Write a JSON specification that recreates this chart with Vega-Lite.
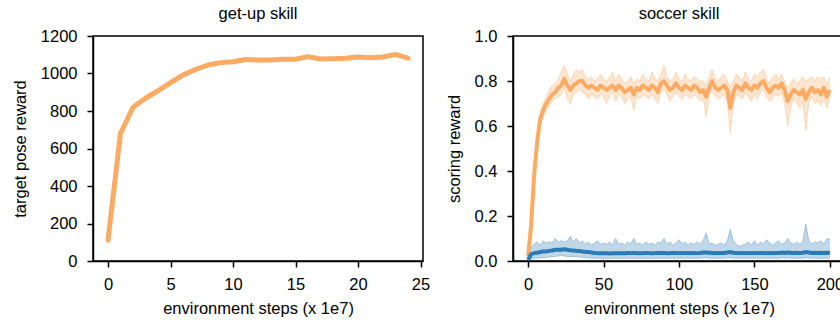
{
  "$schema": "https://vega.github.io/schema/vega-lite/v6.json",
  "padding": {"left": 11, "top": 4, "right": 0, "bottom": 0},
  "background": "white",
  "config": {
    "font": "Liberation Sans",
    "view": {"stroke": "black", "strokeWidth": 1.5},
    "axis": {"grid": false, "domainColor": "black", "domainWidth": 1.5, "tickColor": "black", "tickWidth": 1.5, "tickSize": 6, "labelFontSize": 16.5, "labelColor": "black", "titleFontSize": 16.5, "titleFontWeight": "normal", "titleColor": "black", "labelPadding": 10, "titlePadding": 12, "labelFlush": false, "labelOverlap": false},
    "axisX": {"titlePadding": 8, "labelPadding": 9},
    "title": {"fontSize": 16.5, "fontWeight": "normal", "offset": 6, "anchor": "middle", "frame": "group", "color": "black"}
  },
  "datasets": {
    "getup": [
      {"step": 0, "mean": 112, "lo": 55, "hi": 135},
      {"step": 1, "mean": 681, "lo": 665, "hi": 695},
      {"step": 2, "mean": 820, "lo": 810, "hi": 830},
      {"step": 3, "mean": 868, "lo": 858, "hi": 880},
      {"step": 4, "mean": 908, "lo": 897, "hi": 920},
      {"step": 5, "mean": 951, "lo": 940, "hi": 963},
      {"step": 6, "mean": 992, "lo": 980, "hi": 1004},
      {"step": 7, "mean": 1022, "lo": 1012, "hi": 1033},
      {"step": 8, "mean": 1045, "lo": 1036, "hi": 1054},
      {"step": 9, "mean": 1058, "lo": 1050, "hi": 1066},
      {"step": 10, "mean": 1063, "lo": 1056, "hi": 1070},
      {"step": 11, "mean": 1075, "lo": 1068, "hi": 1082},
      {"step": 12, "mean": 1072, "lo": 1066, "hi": 1078},
      {"step": 13, "mean": 1072, "lo": 1066, "hi": 1078},
      {"step": 14, "mean": 1076, "lo": 1070, "hi": 1082},
      {"step": 15, "mean": 1076, "lo": 1070, "hi": 1082},
      {"step": 16, "mean": 1090, "lo": 1083, "hi": 1097},
      {"step": 17, "mean": 1077, "lo": 1071, "hi": 1083},
      {"step": 18, "mean": 1079, "lo": 1073, "hi": 1085},
      {"step": 19, "mean": 1081, "lo": 1075, "hi": 1087},
      {"step": 20, "mean": 1088, "lo": 1082, "hi": 1094},
      {"step": 21, "mean": 1084, "lo": 1078, "hi": 1090},
      {"step": 22, "mean": 1088, "lo": 1082, "hi": 1094},
      {"step": 23, "mean": 1102, "lo": 1095, "hi": 1108},
      {"step": 24, "mean": 1082, "lo": 1075, "hi": 1089}
    ],
    "soccer": [
      {"agent": "skill", "step": 0, "mean": 0.02, "lo": 0.01, "hi": 0.03},
      {"agent": "skill", "step": 2, "mean": 0.16, "lo": 0.12, "hi": 0.2},
      {"agent": "skill", "step": 4, "mean": 0.38, "lo": 0.33, "hi": 0.43},
      {"agent": "skill", "step": 6, "mean": 0.53, "lo": 0.49, "hi": 0.57},
      {"agent": "skill", "step": 8, "mean": 0.63, "lo": 0.6, "hi": 0.66},
      {"agent": "skill", "step": 10, "mean": 0.67, "lo": 0.64, "hi": 0.7},
      {"agent": "skill", "step": 12, "mean": 0.7, "lo": 0.67, "hi": 0.73},
      {"agent": "skill", "step": 14, "mean": 0.72, "lo": 0.69, "hi": 0.76},
      {"agent": "skill", "step": 16, "mean": 0.74, "lo": 0.71, "hi": 0.78},
      {"agent": "skill", "step": 18, "mean": 0.75, "lo": 0.72, "hi": 0.79},
      {"agent": "skill", "step": 20, "mean": 0.77, "lo": 0.73, "hi": 0.81},
      {"agent": "skill", "step": 22, "mean": 0.78, "lo": 0.74, "hi": 0.84},
      {"agent": "skill", "step": 24, "mean": 0.81, "lo": 0.77, "hi": 0.87},
      {"agent": "skill", "step": 26, "mean": 0.78, "lo": 0.72, "hi": 0.83},
      {"agent": "skill", "step": 28, "mean": 0.76, "lo": 0.7, "hi": 0.8},
      {"agent": "skill", "step": 30, "mean": 0.78, "lo": 0.74, "hi": 0.83},
      {"agent": "skill", "step": 32, "mean": 0.79, "lo": 0.75, "hi": 0.85},
      {"agent": "skill", "step": 34, "mean": 0.8, "lo": 0.76, "hi": 0.84},
      {"agent": "skill", "step": 36, "mean": 0.8, "lo": 0.75, "hi": 0.85},
      {"agent": "skill", "step": 38, "mean": 0.78, "lo": 0.74, "hi": 0.82},
      {"agent": "skill", "step": 40, "mean": 0.77, "lo": 0.72, "hi": 0.81},
      {"agent": "skill", "step": 42, "mean": 0.78, "lo": 0.74, "hi": 0.82},
      {"agent": "skill", "step": 44, "mean": 0.77, "lo": 0.73, "hi": 0.8},
      {"agent": "skill", "step": 46, "mean": 0.76, "lo": 0.72, "hi": 0.81},
      {"agent": "skill", "step": 48, "mean": 0.78, "lo": 0.74, "hi": 0.83},
      {"agent": "skill", "step": 50, "mean": 0.77, "lo": 0.73, "hi": 0.81},
      {"agent": "skill", "step": 52, "mean": 0.76, "lo": 0.7, "hi": 0.8},
      {"agent": "skill", "step": 54, "mean": 0.77, "lo": 0.73, "hi": 0.82},
      {"agent": "skill", "step": 56, "mean": 0.78, "lo": 0.75, "hi": 0.84},
      {"agent": "skill", "step": 58, "mean": 0.76, "lo": 0.71, "hi": 0.8},
      {"agent": "skill", "step": 60, "mean": 0.78, "lo": 0.74, "hi": 0.83},
      {"agent": "skill", "step": 62, "mean": 0.77, "lo": 0.73, "hi": 0.81},
      {"agent": "skill", "step": 64, "mean": 0.75, "lo": 0.7, "hi": 0.79},
      {"agent": "skill", "step": 66, "mean": 0.76, "lo": 0.72, "hi": 0.8},
      {"agent": "skill", "step": 68, "mean": 0.77, "lo": 0.73, "hi": 0.82},
      {"agent": "skill", "step": 70, "mean": 0.74, "lo": 0.67, "hi": 0.79},
      {"agent": "skill", "step": 72, "mean": 0.77, "lo": 0.73, "hi": 0.81},
      {"agent": "skill", "step": 74, "mean": 0.76, "lo": 0.72, "hi": 0.8},
      {"agent": "skill", "step": 76, "mean": 0.78, "lo": 0.74, "hi": 0.83},
      {"agent": "skill", "step": 78, "mean": 0.77, "lo": 0.73, "hi": 0.81},
      {"agent": "skill", "step": 80, "mean": 0.76, "lo": 0.72, "hi": 0.8},
      {"agent": "skill", "step": 82, "mean": 0.78, "lo": 0.74, "hi": 0.84},
      {"agent": "skill", "step": 84, "mean": 0.77, "lo": 0.72, "hi": 0.81},
      {"agent": "skill", "step": 86, "mean": 0.75, "lo": 0.7, "hi": 0.8},
      {"agent": "skill", "step": 88, "mean": 0.79, "lo": 0.75, "hi": 0.83},
      {"agent": "skill", "step": 90, "mean": 0.8, "lo": 0.76, "hi": 0.87},
      {"agent": "skill", "step": 92, "mean": 0.78, "lo": 0.74, "hi": 0.82},
      {"agent": "skill", "step": 94, "mean": 0.76, "lo": 0.71, "hi": 0.8},
      {"agent": "skill", "step": 96, "mean": 0.77, "lo": 0.73, "hi": 0.81},
      {"agent": "skill", "step": 98, "mean": 0.79, "lo": 0.75, "hi": 0.84},
      {"agent": "skill", "step": 100, "mean": 0.77, "lo": 0.73, "hi": 0.81},
      {"agent": "skill", "step": 102, "mean": 0.76, "lo": 0.72, "hi": 0.8},
      {"agent": "skill", "step": 104, "mean": 0.78, "lo": 0.74, "hi": 0.83},
      {"agent": "skill", "step": 106, "mean": 0.77, "lo": 0.73, "hi": 0.81},
      {"agent": "skill", "step": 108, "mean": 0.76, "lo": 0.72, "hi": 0.8},
      {"agent": "skill", "step": 110, "mean": 0.78, "lo": 0.74, "hi": 0.82},
      {"agent": "skill", "step": 112, "mean": 0.77, "lo": 0.73, "hi": 0.81},
      {"agent": "skill", "step": 114, "mean": 0.75, "lo": 0.71, "hi": 0.8},
      {"agent": "skill", "step": 116, "mean": 0.76, "lo": 0.72, "hi": 0.8},
      {"agent": "skill", "step": 118, "mean": 0.73, "lo": 0.64, "hi": 0.78},
      {"agent": "skill", "step": 120, "mean": 0.77, "lo": 0.73, "hi": 0.82},
      {"agent": "skill", "step": 122, "mean": 0.8, "lo": 0.76, "hi": 0.85},
      {"agent": "skill", "step": 124, "mean": 0.77, "lo": 0.73, "hi": 0.81},
      {"agent": "skill", "step": 126, "mean": 0.76, "lo": 0.72, "hi": 0.8},
      {"agent": "skill", "step": 128, "mean": 0.77, "lo": 0.73, "hi": 0.82},
      {"agent": "skill", "step": 130, "mean": 0.78, "lo": 0.74, "hi": 0.83},
      {"agent": "skill", "step": 132, "mean": 0.76, "lo": 0.71, "hi": 0.8},
      {"agent": "skill", "step": 134, "mean": 0.68, "lo": 0.57, "hi": 0.77},
      {"agent": "skill", "step": 136, "mean": 0.75, "lo": 0.7, "hi": 0.8},
      {"agent": "skill", "step": 138, "mean": 0.78, "lo": 0.74, "hi": 0.83},
      {"agent": "skill", "step": 140, "mean": 0.77, "lo": 0.73, "hi": 0.82},
      {"agent": "skill", "step": 142, "mean": 0.76, "lo": 0.72, "hi": 0.8},
      {"agent": "skill", "step": 144, "mean": 0.79, "lo": 0.75, "hi": 0.84},
      {"agent": "skill", "step": 146, "mean": 0.77, "lo": 0.73, "hi": 0.81},
      {"agent": "skill", "step": 148, "mean": 0.76, "lo": 0.71, "hi": 0.8},
      {"agent": "skill", "step": 150, "mean": 0.78, "lo": 0.74, "hi": 0.83},
      {"agent": "skill", "step": 152, "mean": 0.77, "lo": 0.72, "hi": 0.82},
      {"agent": "skill", "step": 154, "mean": 0.79, "lo": 0.75, "hi": 0.84},
      {"agent": "skill", "step": 156, "mean": 0.8, "lo": 0.76, "hi": 0.85},
      {"agent": "skill", "step": 158, "mean": 0.77, "lo": 0.73, "hi": 0.81},
      {"agent": "skill", "step": 160, "mean": 0.75, "lo": 0.71, "hi": 0.79},
      {"agent": "skill", "step": 162, "mean": 0.77, "lo": 0.72, "hi": 0.82},
      {"agent": "skill", "step": 164, "mean": 0.78, "lo": 0.74, "hi": 0.83},
      {"agent": "skill", "step": 166, "mean": 0.77, "lo": 0.73, "hi": 0.81},
      {"agent": "skill", "step": 168, "mean": 0.79, "lo": 0.75, "hi": 0.83},
      {"agent": "skill", "step": 170, "mean": 0.76, "lo": 0.7, "hi": 0.8},
      {"agent": "skill", "step": 172, "mean": 0.71, "lo": 0.6, "hi": 0.77},
      {"agent": "skill", "step": 174, "mean": 0.74, "lo": 0.68, "hi": 0.79},
      {"agent": "skill", "step": 176, "mean": 0.76, "lo": 0.72, "hi": 0.81},
      {"agent": "skill", "step": 178, "mean": 0.75, "lo": 0.7, "hi": 0.79},
      {"agent": "skill", "step": 180, "mean": 0.74, "lo": 0.68, "hi": 0.8},
      {"agent": "skill", "step": 182, "mean": 0.76, "lo": 0.71, "hi": 0.82},
      {"agent": "skill", "step": 184, "mean": 0.72, "lo": 0.58, "hi": 0.8},
      {"agent": "skill", "step": 186, "mean": 0.75, "lo": 0.7, "hi": 0.81},
      {"agent": "skill", "step": 188, "mean": 0.77, "lo": 0.73, "hi": 0.82},
      {"agent": "skill", "step": 190, "mean": 0.75, "lo": 0.7, "hi": 0.8},
      {"agent": "skill", "step": 192, "mean": 0.76, "lo": 0.71, "hi": 0.82},
      {"agent": "skill", "step": 194, "mean": 0.74, "lo": 0.69, "hi": 0.81},
      {"agent": "skill", "step": 196, "mean": 0.77, "lo": 0.72, "hi": 0.82},
      {"agent": "skill", "step": 198, "mean": 0.73, "lo": 0.68, "hi": 0.78},
      {"agent": "skill", "step": 200, "mean": 0.76, "lo": 0.72, "hi": 0.82},
      {"agent": "baseline", "step": 0, "mean": 0.005, "lo": 0.0, "hi": 0.01},
      {"agent": "baseline", "step": 2, "mean": 0.03, "lo": 0.01, "hi": 0.06},
      {"agent": "baseline", "step": 4, "mean": 0.035, "lo": 0.012, "hi": 0.075},
      {"agent": "baseline", "step": 6, "mean": 0.037, "lo": 0.012, "hi": 0.085},
      {"agent": "baseline", "step": 8, "mean": 0.04, "lo": 0.015, "hi": 0.07},
      {"agent": "baseline", "step": 10, "mean": 0.042, "lo": 0.015, "hi": 0.09},
      {"agent": "baseline", "step": 12, "mean": 0.042, "lo": 0.015, "hi": 0.08},
      {"agent": "baseline", "step": 14, "mean": 0.045, "lo": 0.02, "hi": 0.085},
      {"agent": "baseline", "step": 16, "mean": 0.047, "lo": 0.02, "hi": 0.08},
      {"agent": "baseline", "step": 18, "mean": 0.05, "lo": 0.02, "hi": 0.1},
      {"agent": "baseline", "step": 20, "mean": 0.05, "lo": 0.022, "hi": 0.085},
      {"agent": "baseline", "step": 22, "mean": 0.05, "lo": 0.025, "hi": 0.09},
      {"agent": "baseline", "step": 24, "mean": 0.052, "lo": 0.022, "hi": 0.085},
      {"agent": "baseline", "step": 26, "mean": 0.05, "lo": 0.02, "hi": 0.09},
      {"agent": "baseline", "step": 28, "mean": 0.048, "lo": 0.02, "hi": 0.11},
      {"agent": "baseline", "step": 30, "mean": 0.047, "lo": 0.02, "hi": 0.085},
      {"agent": "baseline", "step": 32, "mean": 0.045, "lo": 0.02, "hi": 0.1},
      {"agent": "baseline", "step": 34, "mean": 0.045, "lo": 0.018, "hi": 0.08},
      {"agent": "baseline", "step": 36, "mean": 0.042, "lo": 0.015, "hi": 0.09},
      {"agent": "baseline", "step": 38, "mean": 0.04, "lo": 0.015, "hi": 0.075},
      {"agent": "baseline", "step": 40, "mean": 0.04, "lo": 0.015, "hi": 0.085},
      {"agent": "baseline", "step": 42, "mean": 0.038, "lo": 0.012, "hi": 0.07},
      {"agent": "baseline", "step": 44, "mean": 0.036, "lo": 0.012, "hi": 0.08},
      {"agent": "baseline", "step": 46, "mean": 0.035, "lo": 0.012, "hi": 0.09},
      {"agent": "baseline", "step": 48, "mean": 0.035, "lo": 0.012, "hi": 0.072},
      {"agent": "baseline", "step": 50, "mean": 0.034, "lo": 0.01, "hi": 0.08},
      {"agent": "baseline", "step": 52, "mean": 0.035, "lo": 0.012, "hi": 0.075},
      {"agent": "baseline", "step": 54, "mean": 0.033, "lo": 0.01, "hi": 0.085},
      {"agent": "baseline", "step": 56, "mean": 0.034, "lo": 0.012, "hi": 0.07},
      {"agent": "baseline", "step": 58, "mean": 0.035, "lo": 0.012, "hi": 0.1},
      {"agent": "baseline", "step": 60, "mean": 0.034, "lo": 0.01, "hi": 0.075},
      {"agent": "baseline", "step": 62, "mean": 0.035, "lo": 0.012, "hi": 0.08},
      {"agent": "baseline", "step": 64, "mean": 0.034, "lo": 0.012, "hi": 0.07},
      {"agent": "baseline", "step": 66, "mean": 0.036, "lo": 0.012, "hi": 0.085},
      {"agent": "baseline", "step": 68, "mean": 0.035, "lo": 0.012, "hi": 0.075},
      {"agent": "baseline", "step": 70, "mean": 0.036, "lo": 0.012, "hi": 0.1},
      {"agent": "baseline", "step": 72, "mean": 0.035, "lo": 0.012, "hi": 0.075},
      {"agent": "baseline", "step": 74, "mean": 0.034, "lo": 0.01, "hi": 0.08},
      {"agent": "baseline", "step": 76, "mean": 0.035, "lo": 0.012, "hi": 0.07},
      {"agent": "baseline", "step": 78, "mean": 0.036, "lo": 0.012, "hi": 0.085},
      {"agent": "baseline", "step": 80, "mean": 0.035, "lo": 0.012, "hi": 0.075},
      {"agent": "baseline", "step": 82, "mean": 0.034, "lo": 0.01, "hi": 0.08},
      {"agent": "baseline", "step": 84, "mean": 0.035, "lo": 0.012, "hi": 0.07},
      {"agent": "baseline", "step": 86, "mean": 0.036, "lo": 0.012, "hi": 0.085},
      {"agent": "baseline", "step": 88, "mean": 0.036, "lo": 0.012, "hi": 0.08},
      {"agent": "baseline", "step": 90, "mean": 0.036, "lo": 0.012, "hi": 0.1},
      {"agent": "baseline", "step": 92, "mean": 0.035, "lo": 0.012, "hi": 0.075},
      {"agent": "baseline", "step": 94, "mean": 0.035, "lo": 0.012, "hi": 0.085},
      {"agent": "baseline", "step": 96, "mean": 0.036, "lo": 0.012, "hi": 0.07},
      {"agent": "baseline", "step": 98, "mean": 0.036, "lo": 0.012, "hi": 0.08},
      {"agent": "baseline", "step": 100, "mean": 0.035, "lo": 0.012, "hi": 0.095},
      {"agent": "baseline", "step": 102, "mean": 0.036, "lo": 0.012, "hi": 0.075},
      {"agent": "baseline", "step": 104, "mean": 0.035, "lo": 0.012, "hi": 0.085},
      {"agent": "baseline", "step": 106, "mean": 0.036, "lo": 0.012, "hi": 0.07},
      {"agent": "baseline", "step": 108, "mean": 0.035, "lo": 0.012, "hi": 0.08},
      {"agent": "baseline", "step": 110, "mean": 0.036, "lo": 0.012, "hi": 0.075},
      {"agent": "baseline", "step": 112, "mean": 0.035, "lo": 0.012, "hi": 0.085},
      {"agent": "baseline", "step": 114, "mean": 0.036, "lo": 0.012, "hi": 0.075},
      {"agent": "baseline", "step": 116, "mean": 0.038, "lo": 0.014, "hi": 0.09},
      {"agent": "baseline", "step": 118, "mean": 0.038, "lo": 0.014, "hi": 0.125},
      {"agent": "baseline", "step": 120, "mean": 0.037, "lo": 0.012, "hi": 0.075},
      {"agent": "baseline", "step": 122, "mean": 0.036, "lo": 0.012, "hi": 0.08},
      {"agent": "baseline", "step": 124, "mean": 0.035, "lo": 0.012, "hi": 0.07},
      {"agent": "baseline", "step": 126, "mean": 0.036, "lo": 0.012, "hi": 0.075},
      {"agent": "baseline", "step": 128, "mean": 0.036, "lo": 0.012, "hi": 0.08},
      {"agent": "baseline", "step": 130, "mean": 0.036, "lo": 0.012, "hi": 0.07},
      {"agent": "baseline", "step": 132, "mean": 0.038, "lo": 0.014, "hi": 0.09},
      {"agent": "baseline", "step": 134, "mean": 0.04, "lo": 0.015, "hi": 0.14},
      {"agent": "baseline", "step": 136, "mean": 0.037, "lo": 0.012, "hi": 0.09},
      {"agent": "baseline", "step": 138, "mean": 0.036, "lo": 0.012, "hi": 0.075},
      {"agent": "baseline", "step": 140, "mean": 0.035, "lo": 0.012, "hi": 0.065},
      {"agent": "baseline", "step": 142, "mean": 0.036, "lo": 0.012, "hi": 0.07},
      {"agent": "baseline", "step": 144, "mean": 0.035, "lo": 0.012, "hi": 0.075},
      {"agent": "baseline", "step": 146, "mean": 0.036, "lo": 0.012, "hi": 0.085},
      {"agent": "baseline", "step": 148, "mean": 0.035, "lo": 0.012, "hi": 0.07},
      {"agent": "baseline", "step": 150, "mean": 0.036, "lo": 0.012, "hi": 0.09},
      {"agent": "baseline", "step": 152, "mean": 0.035, "lo": 0.012, "hi": 0.07},
      {"agent": "baseline", "step": 154, "mean": 0.036, "lo": 0.012, "hi": 0.085},
      {"agent": "baseline", "step": 156, "mean": 0.036, "lo": 0.012, "hi": 0.075},
      {"agent": "baseline", "step": 158, "mean": 0.035, "lo": 0.012, "hi": 0.095},
      {"agent": "baseline", "step": 160, "mean": 0.036, "lo": 0.012, "hi": 0.08},
      {"agent": "baseline", "step": 162, "mean": 0.035, "lo": 0.012, "hi": 0.07},
      {"agent": "baseline", "step": 164, "mean": 0.036, "lo": 0.012, "hi": 0.08},
      {"agent": "baseline", "step": 166, "mean": 0.036, "lo": 0.012, "hi": 0.09},
      {"agent": "baseline", "step": 168, "mean": 0.038, "lo": 0.014, "hi": 0.075},
      {"agent": "baseline", "step": 170, "mean": 0.036, "lo": 0.012, "hi": 0.08},
      {"agent": "baseline", "step": 172, "mean": 0.038, "lo": 0.014, "hi": 0.1},
      {"agent": "baseline", "step": 174, "mean": 0.037, "lo": 0.012, "hi": 0.08},
      {"agent": "baseline", "step": 176, "mean": 0.036, "lo": 0.012, "hi": 0.075},
      {"agent": "baseline", "step": 178, "mean": 0.037, "lo": 0.012, "hi": 0.085},
      {"agent": "baseline", "step": 180, "mean": 0.036, "lo": 0.012, "hi": 0.075},
      {"agent": "baseline", "step": 182, "mean": 0.037, "lo": 0.012, "hi": 0.085},
      {"agent": "baseline", "step": 184, "mean": 0.04, "lo": 0.014, "hi": 0.165},
      {"agent": "baseline", "step": 186, "mean": 0.038, "lo": 0.013, "hi": 0.09},
      {"agent": "baseline", "step": 188, "mean": 0.036, "lo": 0.012, "hi": 0.075},
      {"agent": "baseline", "step": 190, "mean": 0.037, "lo": 0.012, "hi": 0.085},
      {"agent": "baseline", "step": 192, "mean": 0.036, "lo": 0.012, "hi": 0.08},
      {"agent": "baseline", "step": 194, "mean": 0.037, "lo": 0.012, "hi": 0.09},
      {"agent": "baseline", "step": 196, "mean": 0.036, "lo": 0.012, "hi": 0.075},
      {"agent": "baseline", "step": 198, "mean": 0.037, "lo": 0.012, "hi": 0.1},
      {"agent": "baseline", "step": 200, "mean": 0.036, "lo": 0.012, "hi": 0.095}
    ]
  },
  "spacing": 90,
  "bounds": "flush",
  "hconcat": [
    {
      "title": "get-up skill",
      "width": 330,
      "height": 225,
      "data": {"name": "getup"},
      "encoding": {
        "x": {"field": "step", "type": "quantitative", "scale": {"domain": [-1.2, 25.2], "nice": false, "zero": false}, "axis": {"values": [0, 5, 10, 15, 20, 25], "title": "environment steps (x 1e7)"}},
        "y": {"field": "mean", "type": "quantitative", "scale": {"domain": [0, 1200], "nice": false}, "axis": {"values": [0, 200, 400, 600, 800, 1000, 1200], "format": "d", "title": "target pose reward"}}
      },
      "layer": [
        {
          "mark": {"type": "area", "color": "#fdaa63", "opacity": 0.35},
          "encoding": {
            "y": {"field": "lo", "type": "quantitative", "scale": {"domain": [0, 1200], "nice": false}, "axis": {"values": [0, 200, 400, 600, 800, 1000, 1200], "format": "d", "title": "target pose reward"}},
            "y2": {"field": "hi"}
          }
        },
        {
          "mark": {"type": "line", "color": "#fdaa63", "strokeWidth": 5, "strokeJoin": "round", "strokeCap": "round"}
        }
      ]
    },
    {
      "title": "soccer skill",
      "width": 332,
      "height": 225,
      "data": {"name": "soccer"},
      "encoding": {
        "x": {"field": "step", "type": "quantitative", "scale": {"domain": [-10, 210], "nice": false, "zero": false}, "axis": {"values": [0, 50, 100, 150, 200], "title": "environment steps (x 1e7)"}},
        "color": {"field": "agent", "type": "nominal", "scale": {"domain": ["skill", "baseline"], "range": ["#fdaa63", "#2c7bb6"]}, "legend": null}
      },
      "layer": [
        {
          "mark": {"type": "area", "opacity": 0.3},
          "encoding": {
            "y": {"field": "lo", "type": "quantitative", "scale": {"domain": [0, 1], "nice": false}, "axis": {"values": [0, 0.2, 0.4, 0.6, 0.8, 1.0], "format": ".1f", "title": "scoring reward"}},
            "y2": {"field": "hi"}
          }
        },
        {
          "mark": {"type": "line", "strokeWidth": 1, "opacity": 0.35},
          "encoding": {"y": {"field": "hi", "type": "quantitative", "title": "scoring reward"}}
        },
        {
          "mark": {"type": "line", "strokeWidth": 1, "opacity": 0.35},
          "encoding": {"y": {"field": "lo", "type": "quantitative", "title": "scoring reward"}}
        },
        {
          "mark": {"type": "line", "strokeWidth": 4, "strokeJoin": "round"},
          "encoding": {"y": {"field": "mean", "type": "quantitative", "title": "scoring reward"}}
        }
      ]
    }
  ]
}
